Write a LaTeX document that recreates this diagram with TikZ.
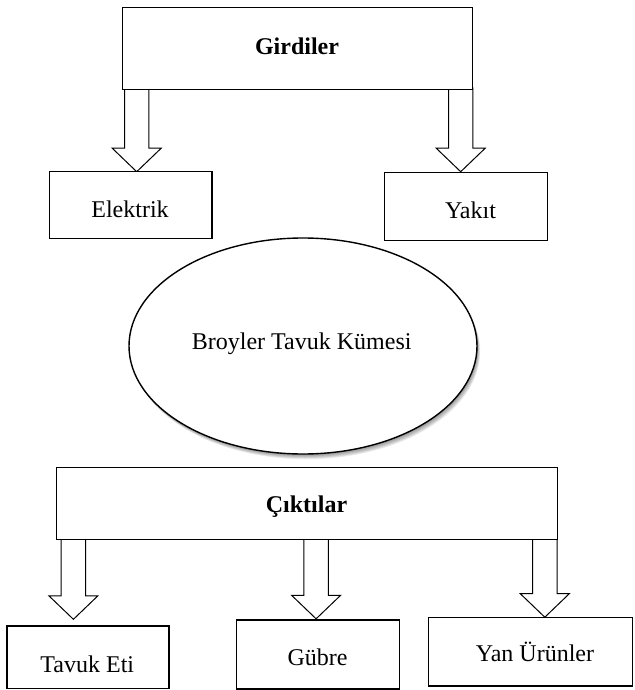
\documentclass[tikz,border=0pt]{standalone}
\usepackage{fontspec}
\setmainfont{Liberation Serif}
\usetikzlibrary{calc,shapes.geometric,backgrounds}
\tikzset{
  box/.style={draw=black, line width=1.3pt, rectangle, inner sep=0pt, outer sep=0pt, fill=white},
  headbox/.style={box, line width=1pt},
  lbl/.style={inner sep=0pt, anchor=base, font=\fontsize{24}{28}\selectfont},
  blbl/.style={inner sep=0pt, anchor=base, font=\fontsize{24}{28}\selectfont\bfseries},
  blockarrow/.style={draw=black, line width=1pt, fill=white, line join=miter},
  cloud/.style={ellipse, draw=black, line width=1.4pt, fill=white, inner sep=0pt, outer sep=0pt,
    minimum width=348pt, minimum height=216pt},
}
\newcommand\blockarr[2]{%
  \draw[blockarrow] let \p1=(#1.south -| #2), \p2=(#2) in
    (\x1-12.2pt,\y1+2pt) -- (\x1-12.2pt,\y2+23.5pt) -- (\x1-24.5pt,\y2+23.5pt) -- (\p2)
    -- (\x1+24.5pt,\y2+23.5pt) -- (\x1+12.2pt,\y2+23.5pt) -- (\x1+12.2pt,\y1+2pt);
}
\begin{document}
\begin{tikzpicture}[x=1pt,y=-1pt]
\useasboundingbox (0,0) rectangle (634,690);

% boxes
\node[headbox, minimum width=350pt, minimum height=82pt] (gir) at (297.7,48.3) {};
\node[box, minimum width=162.7pt, minimum height=67pt] (ele) at (130.65,205.3) {};
\node[box, minimum width=162.9pt, minimum height=68pt] (yak) at (465.85,206.5) {};
\node[headbox, minimum width=501pt, minimum height=72pt] (cik) at (307.2,503.3) {};
\node[box, minimum width=162pt, minimum height=62.3pt] (tav) at (88,657.15) {};
\node[box, minimum width=162.8pt, minimum height=69pt] (gub) at (317.9,654.5) {};
\node[box, minimum width=204pt, minimum height=68.3pt] (yan) at (530.3,651.85) {};

% ellipse with soft shadow
\foreach \i in {1,...,7}
  \fill[black, opacity=0.07] (303+\i*0.45, 346+\i*0.75) ellipse [x radius=174pt, y radius=108pt];
\node[cloud] (bro) at (303,346) {};

% arrow tips
\coordinate (t1) at (136.7,171.7);
\coordinate (t2) at (460.7,171.7);
\coordinate (t3) at (73.4,619.3);
\coordinate (t4) at (316.1,618.8);
\coordinate (t5) at (544.8,617.2);

\begin{scope}[on background layer]
\blockarr{gir}{t1}
\blockarr{gir}{t2}
\blockarr{cik}{t3}
\blockarr{cik}{t4}
\blockarr{cik}{t5}
\end{scope}

% labels
\node[blbl] (lgir) at (297,55) {Girdiler};
\node[lbl] (lele) at (130,217.7) {Elektrik};
\node[lbl] (lyak) at (470.5,218.3) {Yakıt};
\node[lbl] (lbro) at (301.7,349.3) {Broyler Tavuk Kümesi};
\node[blbl] (lcik) at (306.5,512.7) {Çıktılar};
\node[lbl] (ltav) at (87.3,672.3) {Tavuk Eti};
\node[lbl] (lgub) at (317.5,665) {Gübre};
\node[lbl] (lyan) at (535,661.7) {Yan Ürünler};
\end{tikzpicture}
\end{document}
